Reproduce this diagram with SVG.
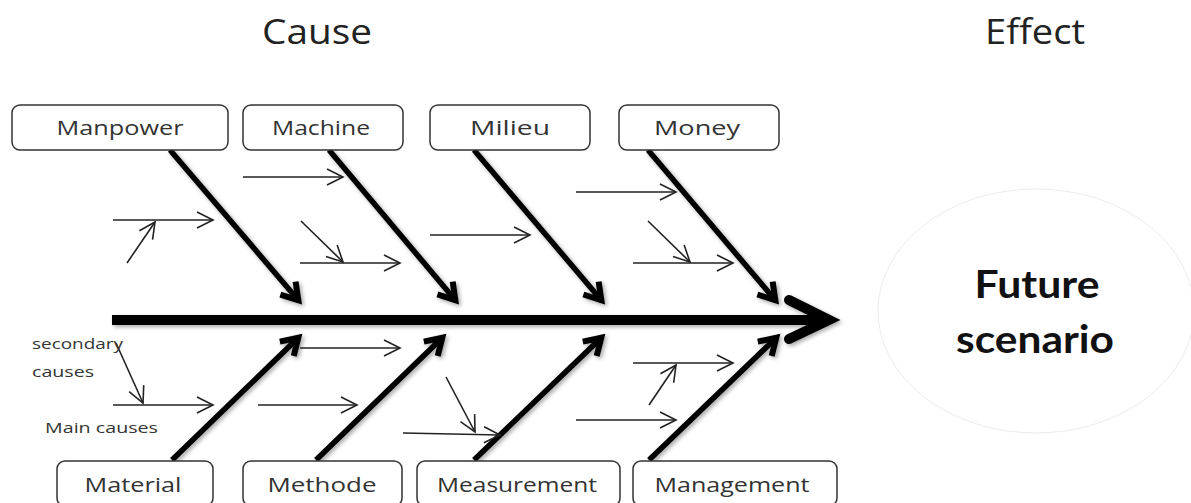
<svg xmlns="http://www.w3.org/2000/svg" width="1191" height="503" viewBox="0 0 1191 503">
<style>
  .box { fill: #fff; stroke: #333; stroke-width: 1.5; }
  .lbl { font-family: "Open Sans", Lato, sans-serif; font-size: 20px; fill: #333; text-anchor: middle; }
  .title { font-family: "Open Sans", Lato, sans-serif; font-size: 34px; fill: #222; text-anchor: middle; }
  .small { font-family: "Open Sans", Lato, sans-serif; font-size: 14px; fill: #333; }
  .thin { stroke: #222; stroke-width: 1.6; fill: none; marker-end: url(#thinArrow); }
  .bone { stroke: #000; stroke-width: 5.5; fill: none; marker-end: url(#boneArrow); }
</style>
<defs>
  <filter id="shadow" filterUnits="userSpaceOnUse" x="0" y="0" width="1191" height="503">
    <feGaussianBlur in="SourceAlpha" stdDeviation="2"/>
    <feOffset dx="2" dy="2" result="b"/>
    <feComponentTransfer><feFuncA type="linear" slope="0.35"/></feComponentTransfer>
    <feMerge><feMergeNode/><feMergeNode in="SourceGraphic"/></feMerge>
  </filter>
  <marker id="thinArrow" markerUnits="userSpaceOnUse" refX="0" refY="0" orient="auto" overflow="visible" markerWidth="20" markerHeight="20">
    <path d="M-16,-8 L0,0 L-16,8" fill="none" stroke="#222" stroke-width="1.6"/>
  </marker>
  <marker id="boneArrow" markerUnits="userSpaceOnUse" refX="0" refY="0" orient="auto" overflow="visible" markerWidth="30" markerHeight="30">
    <path d="M-17,-10 L-1,0 L-17,10" fill="none" stroke="#000" stroke-width="6" stroke-linejoin="miter"/>
  </marker>
</defs>

<text class="title" x="317" y="44" textLength="110" lengthAdjust="spacingAndGlyphs">Cause</text>
<text class="title" x="1035" y="44" textLength="100" lengthAdjust="spacingAndGlyphs">Effect</text>

<g id="connectors">
  <g filter="url(#shadow)">
    <rect x="112" y="315" width="712" height="10" fill="#000"/>
    <path d="M789,300 L829,320 L789,339" fill="none" stroke="#000" stroke-width="10" stroke-linecap="round" stroke-linejoin="miter"/>
    <line class="bone" x1="170" y1="150" x2="299" y2="301"/>
    <line class="bone" x1="329" y1="150" x2="456" y2="301"/>
    <line class="bone" x1="474" y1="150" x2="602" y2="301"/>
    <line class="bone" x1="648" y1="150" x2="776" y2="301"/>
    <line class="bone" x1="172" y1="460" x2="299" y2="337"/>
    <line class="bone" x1="316" y1="460" x2="443" y2="337"/>
    <line class="bone" x1="474" y1="460" x2="602" y2="337"/>
    <line class="bone" x1="649" y1="460" x2="777" y2="337"/>
  </g>
  <line class="thin" x1="113" y1="220" x2="213" y2="220"/>
  <line class="thin" x1="127" y1="263" x2="155" y2="222"/>
  <line class="thin" x1="243" y1="177" x2="343" y2="177"/>
  <line class="thin" x1="301" y1="221" x2="343" y2="262"/>
  <line class="thin" x1="300" y1="263" x2="400" y2="263"/>
  <line class="thin" x1="430" y1="235" x2="530" y2="235"/>
  <line class="thin" x1="576" y1="192" x2="676" y2="192"/>
  <line class="thin" x1="648" y1="221" x2="690" y2="262"/>
  <line class="thin" x1="633" y1="263" x2="733" y2="263"/>
  <line class="thin" x1="300" y1="348" x2="400" y2="348"/>
  <line class="thin" x1="113" y1="405" x2="213" y2="405"/>
  <line class="thin" x1="116" y1="343" x2="143" y2="403"/>
  <line class="thin" x1="258" y1="405" x2="357" y2="405"/>
  <line class="thin" x1="403" y1="433" x2="500" y2="435"/>
  <line class="thin" x1="446" y1="377" x2="475" y2="432"/>
  <line class="thin" x1="633" y1="363" x2="733" y2="363"/>
  <line class="thin" x1="649" y1="405" x2="676" y2="365"/>
  <line class="thin" x1="576" y1="420" x2="676" y2="420"/>
</g>

<g id="manpower">
  <rect class="box" x="12" y="105" width="216" height="45" rx="8"/>
  <text class="lbl" x="120" y="135" textLength="127" lengthAdjust="spacingAndGlyphs">Manpower</text>
</g>
<g id="machine">
  <rect class="box" x="243" y="105" width="160" height="45" rx="8"/>
  <text class="lbl" x="321" y="135" textLength="98" lengthAdjust="spacingAndGlyphs">Machine</text>
</g>
<g id="milieu">
  <rect class="box" x="430" y="105" width="160" height="45" rx="8"/>
  <text class="lbl" x="510" y="135" textLength="80" lengthAdjust="spacingAndGlyphs">Milieu</text>
</g>
<g id="money">
  <rect class="box" x="619" y="105" width="160" height="45" rx="8"/>
  <text class="lbl" x="697" y="135" textLength="86" lengthAdjust="spacingAndGlyphs">Money</text>
</g>

<g id="material">
  <rect class="box" x="57" y="461" width="156" height="45" rx="8"/>
  <text class="lbl" x="133" y="492" textLength="97" lengthAdjust="spacingAndGlyphs">Material</text>
</g>
<g id="methode">
  <rect class="box" x="243" y="461" width="159" height="45" rx="8"/>
  <text class="lbl" x="322" y="492" textLength="109" lengthAdjust="spacingAndGlyphs">Methode</text>
</g>
<g id="measurement">
  <rect class="box" x="417" y="461" width="203" height="45" rx="8"/>
  <text class="lbl" x="517" y="492" textLength="160" lengthAdjust="spacingAndGlyphs">Measurement</text>
</g>
<g id="management">
  <rect class="box" x="633" y="461" width="204" height="45" rx="8"/>
  <text class="lbl" x="732" y="492" textLength="155" lengthAdjust="spacingAndGlyphs">Management</text>
</g>

<g id="annotations">
  <text class="small" x="32" y="349" textLength="91" lengthAdjust="spacingAndGlyphs">secondary</text>
  <text class="small" x="32" y="377" textLength="62" lengthAdjust="spacingAndGlyphs">causes</text>
  <text class="small" x="45" y="433" textLength="113" lengthAdjust="spacingAndGlyphs">Main causes</text>
</g>

<g id="future-scenario">
  <ellipse cx="1036" cy="311" rx="158" ry="122" fill="#fff" stroke="#ececec" stroke-width="1"/>
  <text x="1037" y="298" font-family="Lato, 'Open Sans', sans-serif" font-weight="bold" font-size="39" fill="#111" text-anchor="middle" textLength="125" lengthAdjust="spacingAndGlyphs">Future</text>
  <text x="1035" y="353" font-family="Lato, 'Open Sans', sans-serif" font-weight="bold" font-size="39" fill="#111" text-anchor="middle" textLength="158" lengthAdjust="spacingAndGlyphs">scenario</text>
</g>
</svg>
